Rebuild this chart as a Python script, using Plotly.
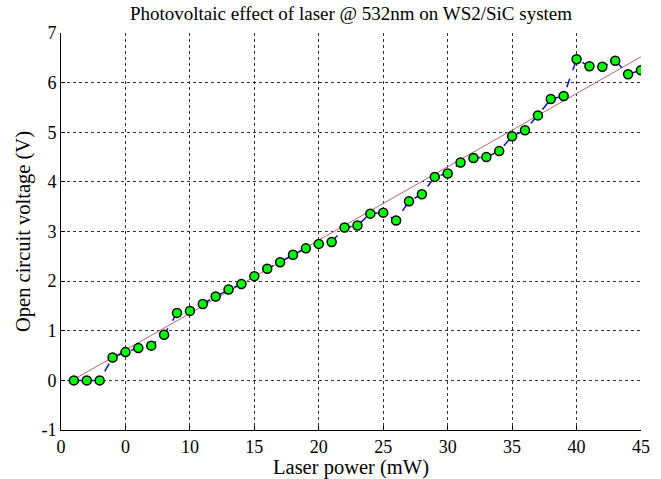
import plotly.graph_objects as go

power_mw = list(range(1, 46))
voltage_v = [0.00, 0.00, 0.00, 0.46, 0.57, 0.65, 0.70, 0.92, 1.36, 1.40,
             1.54, 1.69, 1.83, 1.94, 2.10, 2.25, 2.38, 2.53, 2.66, 2.75,
             2.79, 3.08, 3.12, 3.36, 3.38, 3.22, 3.61, 3.75, 4.10, 4.17,
             4.39, 4.48, 4.50, 4.62, 4.92, 5.04, 5.34, 5.67, 5.73, 6.47,
             6.33, 6.32, 6.44, 6.17, 6.25]
fit_x = [1, 45]
fit_y = [0.02, 6.52]

x_tickvals = [0, 5, 10, 15, 20, 25, 30, 35, 40, 45]
x_ticktext = ["0", "0", "10", "15", "20", "25", "30", "35", "40", "45"]
y_tickvals = [-1, 0, 1, 2, 3, 4, 5, 6, 7]
y_ticktext = ["-1", "0", "1", "2", "3", "4", "5", "6", "7"]

font_family = "Liberation Serif, Times New Roman, serif"

fig = go.Figure()
fig.add_trace(go.Scatter(
    x=fit_x, y=fit_y, mode="lines",
    line=dict(color="#b06a6a", width=1), showlegend=False, hoverinfo="skip"))
fig.add_trace(go.Scatter(
    x=power_mw, y=voltage_v, mode="lines+markers",
    line=dict(color="#1010c0", width=1.5, dash="dash"),
    marker=dict(color="#00ff00", size=9, line=dict(color="black", width=1.5)),
    showlegend=False))

axis_common = dict(
    showgrid=True, gridcolor="#333333", griddash="dot", gridwidth=1,
    showline=True, linecolor="black", linewidth=1, mirror=False,
    ticks="inside", ticklen=4, tickcolor="black",
    tickfont=dict(family=font_family, size=18, color="black"),
    zeroline=False, automargin=False,
)

fig.update_layout(
    width=661, height=479,
    margin=dict(l=61, r=20, t=33, b=49),
    paper_bgcolor="white", plot_bgcolor="white",
    font=dict(family=font_family, color="black"),
    title=dict(text="Photovoltaic effect of laser @ 532nm on WS2/SiC system",
               x=0.5, xanchor="center", xref="paper", y=0.973, yanchor="middle",
               font=dict(family=font_family, size=19, color="black")),
    xaxis=dict(range=[0, 45], tickvals=x_tickvals, ticktext=x_ticktext,
               title=dict(text="Laser power (mW)", standoff=0,
                          font=dict(family=font_family, size=20.5, color="black")),
               **axis_common),
    yaxis=dict(range=[-1, 7], tickvals=y_tickvals, ticktext=y_ticktext,
               title=dict(text="Open circuit voltage (V)", standoff=5,
                          font=dict(family=font_family, size=20.5, color="black")),
               **axis_common),
)

fig.write_html("out.html", config={"displayModeBar": False},
               post_script="document.body.style.margin='0';")
